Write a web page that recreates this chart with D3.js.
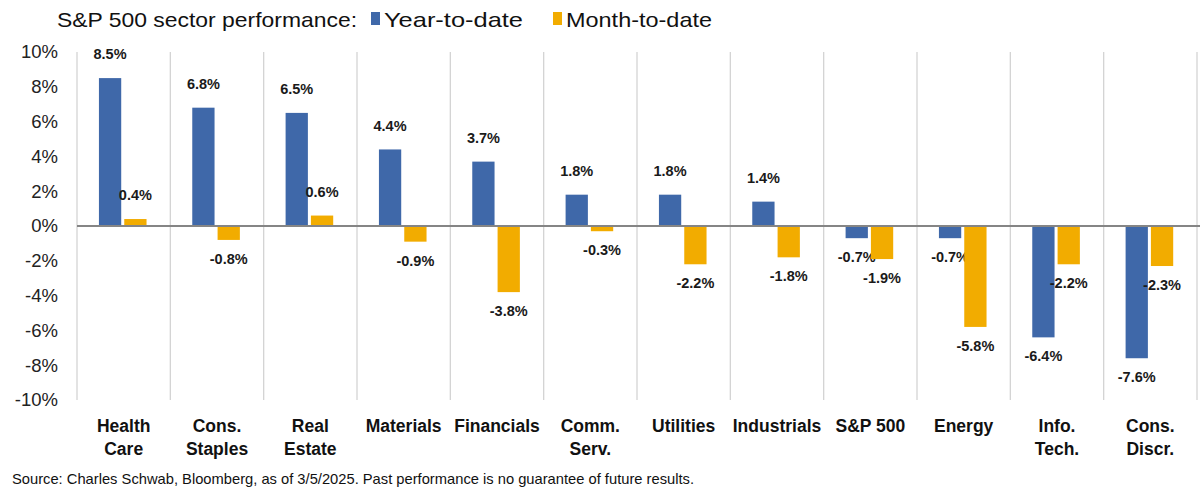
<!DOCTYPE html>
<html>
<head>
<meta charset="utf-8">
<script src="https://cdn.jsdelivr.net/npm/d3@7"></script>
<style>
  body { margin: 0; background: #fff; }
  svg { display: block; font-family: "Liberation Sans", Arial, sans-serif; }
</style>
</head>
<body>
<svg id="chart"></svg>
<script>
var categories = [["Health", "Care"], ["Cons.", "Staples"], ["Real", "Estate"], ["Materials"], ["Financials"],
                  ["Comm.", "Serv."], ["Utilities"], ["Industrials"], ["S&P 500"], ["Energy"], ["Info.", "Tech."], ["Cons.", "Discr."]];
var ytd = [8.5, 6.8, 6.5, 4.4, 3.7, 1.8, 1.8, 1.4, -0.7, -0.7, -6.4, -7.6];
var mtd = [0.4, -0.8, 0.6, -0.9, -3.8, -0.3, -2.2, -1.8, -1.9, -5.8, -2.2, -2.3];
var yTicks = [10, 8, 6, 4, 2, 0, -2, -4, -6, -8, -10];
var seriesNames = ["Year-to-date", "Month-to-date"];

var width = 1200, height = 496;
var colors = ["#3F68A9", "#F2AC00"];

var svg = d3.select("#chart").attr("width", width).attr("height", height);

var x = d3.scaleBand()
          .domain(d3.range(categories.length))
          .range([77, 1197])
          .paddingInner(0).paddingOuter(0);
var inner = d3.scaleBand()
          .domain([0, 1])
          .range([x.bandwidth()*0.235, x.bandwidth()*0.745])
          .paddingInner(0.12);
var y = d3.scaleLinear().domain([-10, 10]).range([400, 52]);

// divider lines between categories
svg.selectAll(".divider")
   .data(d3.range(categories.length + 1))
   .enter()
   .append("line")
   .attr("class", "divider")
   .attr("x1", d => d < categories.length ? x(d) : x.range()[1])
   .attr("x2", d => d < categories.length ? x(d) : x.range()[1])
   .attr("y1", y(10))
   .attr("y2", y(-10))
   .style("stroke", "#d4d4d4")
   .style("stroke-width", 1.3);

// y axis tick labels
svg.selectAll(".ytick")
   .data(yTicks)
   .enter()
   .append("text")
   .attr("class", "ytick")
   .attr("x", 58)
   .attr("y", d => y(d))
   .attr("dy", "0.35em")
   .attr("text-anchor", "end")
   .style("font-size", "18.5px")
   .attr("fill", "#222")
   .text(d => d + "%");

var series = [ytd, mtd];
series.forEach(function(vals, s){
    var g = svg.append("g");
    g.selectAll("rect")
     .data(vals)
     .enter()
     .append("rect")
     .attr("x", (d,i) => x(i) + inner(s))
     .attr("width", inner.bandwidth())
     .attr("y", d => y(Math.max(0, d)))
     .attr("height", d => Math.abs(y(d) - y(0)))
     .style("fill", colors[s]);

    g.selectAll("text")
     .data(vals)
     .enter()
     .append("text")
     .attr("x", (d,i) => x(i) + inner(s) + inner.bandwidth()/2)
     .attr("y", d => d >= 0 ? y(d) - 24 : y(d) + 19)
     .attr("dy", "0.35em")
     .attr("text-anchor", "middle")
     .style("font-size", "14.5px")
     .style("font-weight", "bold")
     .attr("fill", "#1a1a1a")
     .text(d => d.toFixed(1) + "%");
});

// zero line
svg.append("line")
   .attr("x1", x.range()[0]).attr("x2", 1200)
   .attr("y1", y(0)).attr("y2", y(0))
   .style("stroke", "#858585")
   .style("stroke-width", 2.2);

// category labels
var cat = svg.selectAll(".cat")
   .data(categories)
   .enter()
   .append("text")
   .attr("class", "cat")
   .attr("text-anchor", "middle")
   .style("font-size", "17.5px")
   .style("font-weight", "bold")
   .attr("fill", "#111");
cat.selectAll("tspan")
   .data((d,i) => d.map(t => ({t: t, i: i})))
   .enter()
   .append("tspan")
   .attr("x", d => x(d.i) + x.bandwidth()/2)
   .attr("y", (d,j) => 432 + j*23)
   .text(d => d.t);

// title + legend
svg.append("text")
   .attr("x", 57).attr("y", 27)
   .style("font-size", "21px")
   .attr("textLength", 300)
   .attr("lengthAdjust", "spacingAndGlyphs")
   .attr("fill", "#111")
   .text("S&P 500 sector performance:");
var legX = [371, 553];
var legW = [139, 146];
seriesNames.forEach(function(n, i){
    svg.append("rect")
       .attr("x", legX[i]).attr("y", 12)
       .attr("width", 9).attr("height", 13)
       .style("fill", colors[i]);
    svg.append("text")
       .attr("x", legX[i] + 13).attr("y", 27)
       .style("font-size", "21px")
       .attr("textLength", legW[i])
       .attr("lengthAdjust", "spacingAndGlyphs")
       .attr("fill", "#111")
       .text(n);
});

// source note
svg.append("text")
   .attr("x", 12).attr("y", 484)
   .style("font-size", "14.5px")
   .attr("textLength", 682)
   .attr("lengthAdjust", "spacingAndGlyphs")
   .attr("fill", "#111")
   .text("Source: Charles Schwab, Bloomberg, as of 3/5/2025.  Past performance is no guarantee of future results.");
</script>
</body>
</html>
